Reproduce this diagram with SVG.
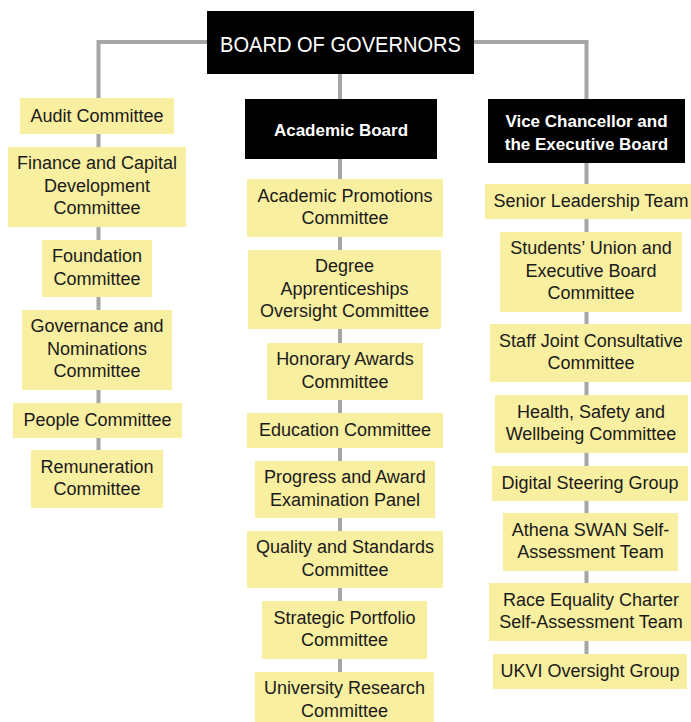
<svg xmlns="http://www.w3.org/2000/svg" width="691" height="722" viewBox="0 0 691 722">
  <style>
    .link { fill: none; stroke: #a6a6a6; stroke-width: 4; }
    .head { fill: #000000; }
    .sub { fill: #f9efa0; }
    .ht { fill: #ffffff; font-family: "Liberation Sans", Arial, sans-serif; font-weight: bold; font-size: 17px; text-anchor: middle; }
    .st { fill: #1a1a1a; font-family: "Liberation Sans", Arial, sans-serif; font-size: 18px; text-anchor: middle; }
  </style>
  <rect width="691" height="722" fill="#ffffff"/>

  <!-- connectors -->
  <g id="connectors">
    <path class="link" d="M207,42 H98.5 V480"/>
    <path class="link" d="M474,42 H586.5 V670"/>
    <path class="link" d="M340,74 V700"/>
  </g>

  <!-- top level -->
  <g id="board-of-governors">
    <rect class="head" x="207" y="11" width="267" height="63"/>
    <text x="340.5" y="51.5" fill="#ffffff" font-family="'Liberation Sans', Arial, sans-serif" font-size="21.5" text-anchor="middle" textLength="241" lengthAdjust="spacingAndGlyphs">BOARD OF GOVERNORS</text>
  </g>
  <g id="academic-board">
    <rect class="head" x="245" y="99" width="192" height="60"/>
    <text class="ht" x="341" y="136">Academic Board</text>
  </g>
  <g id="vice-chancellor">
    <rect class="head" x="488" y="99" width="197" height="64"/>
    <text class="ht" x="586.5" y="126.5">Vice Chancellor and</text>
    <text class="ht" x="586.5" y="150">the Executive Board</text>
  </g>

  <!-- board of governors committees -->
  <g id="audit">
    <rect class="sub" x="20" y="98" width="154" height="36"/>
    <text class="st" x="97" y="121.5">Audit Committee</text>
  </g>
  <g id="finance">
    <rect class="sub" x="8" y="147" width="178" height="80"/>
    <text class="st" x="97" y="169">Finance and Capital</text>
    <text class="st" x="97" y="191.5">Development</text>
    <text class="st" x="97" y="214">Committee</text>
  </g>
  <g id="foundation">
    <rect class="sub" x="42" y="240" width="110" height="57"/>
    <text class="st" x="97" y="262">Foundation</text>
    <text class="st" x="97" y="284.5">Committee</text>
  </g>
  <g id="governance">
    <rect class="sub" x="22" y="310" width="150" height="80"/>
    <text class="st" x="97" y="332">Governance and</text>
    <text class="st" x="97" y="354.5">Nominations</text>
    <text class="st" x="97" y="377">Committee</text>
  </g>
  <g id="people">
    <rect class="sub" x="13" y="403" width="169" height="35"/>
    <text class="st" x="97.5" y="426">People Committee</text>
  </g>
  <g id="remuneration">
    <rect class="sub" x="31" y="450" width="132" height="58"/>
    <text class="st" x="97" y="472.5">Remuneration</text>
    <text class="st" x="97" y="495">Committee</text>
  </g>

  <!-- academic board committees -->
  <g id="academic-promotions">
    <rect class="sub" x="247" y="179" width="196" height="58"/>
    <text class="st" x="345" y="201.5">Academic Promotions</text>
    <text class="st" x="345" y="224">Committee</text>
  </g>
  <g id="degree-apprenticeships">
    <rect class="sub" x="248" y="250" width="193" height="79"/>
    <text class="st" x="344.5" y="272">Degree</text>
    <text class="st" x="344.5" y="294.5">Apprenticeships</text>
    <text class="st" x="344.5" y="317">Oversight Committee</text>
  </g>
  <g id="honorary-awards">
    <rect class="sub" x="267" y="343" width="156" height="57"/>
    <text class="st" x="345" y="365">Honorary Awards</text>
    <text class="st" x="345" y="387.5">Committee</text>
  </g>
  <g id="education">
    <rect class="sub" x="247" y="413" width="196" height="35"/>
    <text class="st" x="345" y="436">Education Committee</text>
  </g>
  <g id="progress-award">
    <rect class="sub" x="255" y="461" width="180" height="57"/>
    <text class="st" x="345" y="483">Progress and Award</text>
    <text class="st" x="345" y="505.5">Examination Panel</text>
  </g>
  <g id="quality-standards">
    <rect class="sub" x="247" y="531" width="196" height="57"/>
    <text class="st" x="345" y="553">Quality and Standards</text>
    <text class="st" x="345" y="575.5">Committee</text>
  </g>
  <g id="strategic-portfolio">
    <rect class="sub" x="262" y="601" width="165" height="58"/>
    <text class="st" x="344.5" y="623.5">Strategic Portfolio</text>
    <text class="st" x="344.5" y="646">Committee</text>
  </g>
  <g id="university-research">
    <rect class="sub" x="255" y="672" width="179" height="60"/>
    <text class="st" x="344.5" y="694">University Research</text>
    <text class="st" x="344.5" y="716.5">Committee</text>
  </g>

  <!-- executive board groups -->
  <g id="senior-leadership">
    <rect class="sub" x="485" y="184" width="206" height="35"/>
    <text class="st" x="591" y="207">Senior Leadership Team</text>
  </g>
  <g id="students-union">
    <rect class="sub" x="500" y="232" width="182" height="80"/>
    <text class="st" x="591" y="254">Students’ Union and</text>
    <text class="st" x="591" y="276.5">Executive Board</text>
    <text class="st" x="591" y="299">Committee</text>
  </g>
  <g id="staff-joint">
    <rect class="sub" x="490" y="324" width="201" height="58"/>
    <text class="st" x="591" y="346.5">Staff Joint Consultative</text>
    <text class="st" x="591" y="369">Committee</text>
  </g>
  <g id="health-safety">
    <rect class="sub" x="495" y="395" width="193" height="58"/>
    <text class="st" x="591" y="417.5">Health, Safety and</text>
    <text class="st" x="591" y="440">Wellbeing Committee</text>
  </g>
  <g id="digital-steering">
    <rect class="sub" x="492" y="466" width="196" height="35"/>
    <text class="st" x="590" y="489">Digital Steering Group</text>
  </g>
  <g id="athena-swan">
    <rect class="sub" x="503" y="513" width="175" height="58"/>
    <text class="st" x="590.5" y="535.5">Athena SWAN Self-</text>
    <text class="st" x="590.5" y="558">Assessment Team</text>
  </g>
  <g id="race-equality">
    <rect class="sub" x="489" y="583" width="202" height="58"/>
    <text class="st" x="591" y="605.5">Race Equality Charter</text>
    <text class="st" x="591" y="628">Self-Assessment Team</text>
  </g>
  <g id="ukvi">
    <rect class="sub" x="493" y="654" width="194" height="35"/>
    <text class="st" x="590" y="677">UKVI Oversight Group</text>
  </g>
</svg>
